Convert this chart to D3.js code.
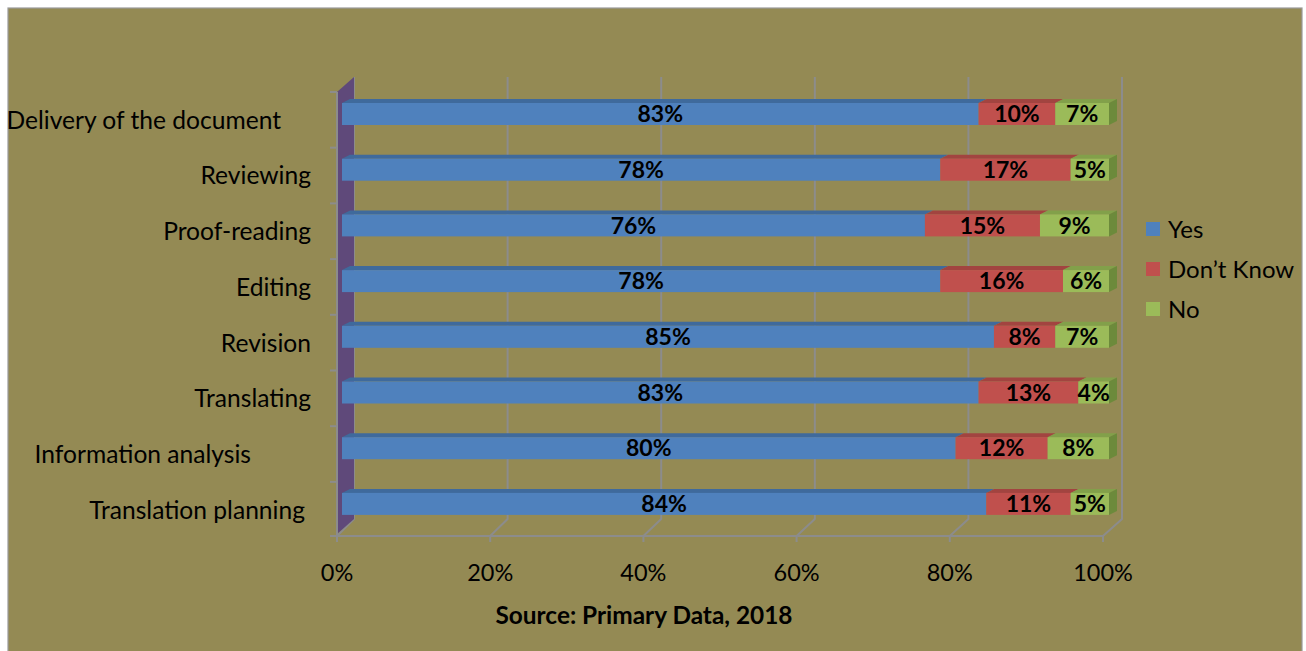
<!DOCTYPE html>
<html><head><meta charset="utf-8">
<script src="https://cdn.jsdelivr.net/npm/d3@7/dist/d3.min.js"></script>
<style>body{margin:0;background:#fff}svg{display:block}text{font-family:Lato,"Open Sans",sans-serif;fill:#000}</style>
</head><body>
<script>
const categories = ["Delivery of the document","Reviewing","Proof-reading","Editing","Revision","Translating","Information analysis","Translation planning"];
const yesValues = [83,78,76,78,85,83,80,84];
const dontKnowValues = [10,17,15,16,8,13,12,11];
const noValues = [7,5,9,6,7,4,8,5];
const seriesNames = ["Yes","Don\u2019t Know","No"];
const tickValues = [0,20,40,60,80,100];
const sourceText = "Source: Primary Data, 2018";

const W=1306,H=651;
const svg=d3.select("body").append("svg").attr("width",W).attr("height",H);
svg.append("rect").attr("width",W).attr("height",H).attr("fill","#fff");
svg.append("rect").attr("x",8).attr("y",8).attr("width",1294).attr("height",650)
  .attr("fill","#948A54").attr("stroke","#9a9a9a").attr("stroke-width",1.2);

const colors=["#4F81BD","#C0504D","#9BBB59"];
const topColors=["#3F6A9C","#A24440","#82A04A"];
const sideColors=["#365E8C","#8E3B38","#6C8A3B"];

const xFront=d3.scaleLinear().domain([0,100]).range([337,1103]);
const xBack=d3.scaleLinear().domain([0,100]).range([354,1122]);
const xBar=d3.scaleLinear().domain([0,100]).range([342,1109]);
const yBand=d3.scaleBand().domain(categories).range([92,537.6]).padding(0);
const backTop=77, backBottom=519, frontY=536;

// back gridlines + floor diagonals
const grid=svg.append("g").attr("stroke","#8c8c8c").attr("stroke-width",2).attr("fill","none");
tickValues.forEach(t=>{
  grid.append("path").attr("d",`M${xBack(t)},${backTop}L${xBack(t)},${backBottom}L${xFront(t)},${frontY}`);
});
// left wall
svg.append("path").attr("d",`M337,92L354,77L354,${backBottom}L337,534Z`).attr("fill","#5F497A");
// front axes
const ax=svg.append("g").attr("stroke","#8c8c8c").attr("stroke-width",2).attr("fill","none");
ax.append("path").attr("d",`M337,92L337,${frontY}L${xFront(100)},${frontY}`);
tickValues.forEach(t=>ax.append("path").attr("d",`M${xFront(t)},${frontY}L${xFront(t)},${frontY+6}`));
categories.forEach(c=>ax.append("path").attr("d",`M330,${yBand(c)}L337,${yBand(c)}`));
ax.append("path").attr("d",`M330,${frontY}L337,${frontY}`);

// bars
const dx=8,dy=4,bh=22;
const series=[yesValues,dontKnowValues,noValues];
const bars=svg.append("g");
categories.forEach((c,i)=>{
  const y0=yBand(c)+11;
  let cum=0;
  series.forEach((vals,s)=>{
    const a=xBar(cum), b=xBar(cum+vals[i]);
    const g=bars.append("g");
    g.append("path").attr("d",`M${a},${y0}L${a+dx},${y0-dy}L${b+dx},${y0-dy}L${b},${y0}Z`).attr("fill",topColors[s]);
    if(s===2) g.append("path").attr("d",`M${b},${y0}L${b+dx},${y0-dy}L${b+dx},${y0+bh-dy}L${b},${y0+bh}Z`).attr("fill",sideColors[s]);
    g.append("rect").attr("x",a).attr("y",y0).attr("width",b-a).attr("height",bh).attr("fill",colors[s]);
    cum+=vals[i];
  });
});
// data labels
categories.forEach((c,i)=>{
  const y0=yBand(c)+11;
  let cum=0;
  series.forEach((vals,s)=>{
    const mid=xBar(cum+vals[i]/2);
    svg.append("text").attr("x",mid).attr("y",y0+bh/2).attr("dy","0.36em")
      .attr("text-anchor","middle").attr("font-weight","bold").attr("font-size",23)
      .text(vals[i]+"%");
    cum+=vals[i];
  });
});
// category labels
const labelEnd={"Delivery of the document":281,"Information analysis":251,"Translation planning":305};
categories.forEach(c=>{
  svg.append("text").attr("x",labelEnd[c]||311).attr("y",yBand(c)+yBand.bandwidth()/2).attr("dy","0.36em")
    .attr("text-anchor","end").attr("font-size",24.6).text(c);
});
// x tick labels
tickValues.forEach(t=>{
  svg.append("text").attr("x",xFront(t)).attr("y",573).attr("dy","0.36em").attr("text-anchor","middle")
    .attr("font-size",23.5).text(t+"%");
});
// source
svg.append("text").attr("x",644).attr("y",615).attr("dy","0.36em").attr("text-anchor","middle")
  .attr("font-weight","bold").attr("font-size",24.4).text(sourceText);
// legend
seriesNames.forEach((n,k)=>{
  const cy=229+40*k;
  svg.append("rect").attr("x",1146).attr("y",cy-7).attr("width",14).attr("height",14).attr("fill",colors[k]);
  svg.append("text").attr("x",1168).attr("y",cy).attr("dy","0.36em").attr("font-size",24).text(n);
});
</script>
</body></html>
